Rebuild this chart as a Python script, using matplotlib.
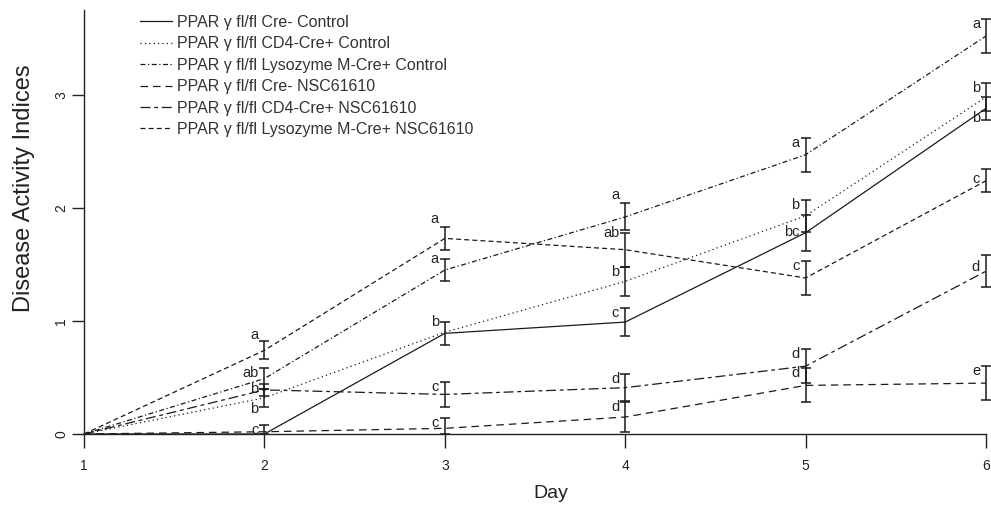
import matplotlib.pyplot as plt
import numpy as np

plt.rcParams['font.family'] = ['Liberation Sans', 'DejaVu Sans']

days = [1, 2, 3, 4, 5, 6]

# mean disease activity index per group
cre_ctrl = [0, 0, 0.89, 0.99, 1.78, 2.88]
cd4_ctrl = [0, 0.32, 0.90, 1.35, 1.93, 2.98]
lys_ctrl = [0, 0.49, 1.45, 1.92, 2.47, 3.52]
cre_nsc = [0, 0.02, 0.05, 0.15, 0.43, 0.45]
cd4_nsc = [0, 0.39, 0.35, 0.41, 0.60, 1.44]
lys_nsc = [0, 0.74, 1.73, 1.63, 1.38, 2.24]

# SEM
cre_ctrl_err = [0, 0.08, 0.10, 0.12, 0.16, 0.10]
cd4_ctrl_err = [0, 0.08, 0, 0.13, 0.14, 0.12]
lys_ctrl_err = [0, 0.09, 0.10, 0.12, 0.15, 0.15]
cre_nsc_err = [0, 0, 0.09, 0.13, 0.15, 0.15]
cd4_nsc_err = [0, 0.05, 0.11, 0.12, 0.15, 0.14]
lys_nsc_err = [0, 0.08, 0.10, 0.15, 0.15, 0.10]

# significance letters
cre_ctrl_sig = ['', 'c', 'b', 'c', 'bc', 'b']
cd4_ctrl_sig = ['', 'b', '', 'b', 'b', 'b']
lys_ctrl_sig = ['', 'ab', 'a', 'a', 'a', 'a']
cre_nsc_sig = ['', '', 'c', 'd', 'd', 'e']
cd4_nsc_sig = ['', 'b', 'c', 'd', 'd', 'd']
lys_nsc_sig = ['', 'a', 'a', 'ab', 'c', 'c']

groups = {
    'cre_ctrl': {'label': "PPAR γ fl/fl Cre- Control", 'y': cre_ctrl, 'err': cre_ctrl_err, 'sig': cre_ctrl_sig, 'style': '-'},
    'cd4_ctrl': {'label': "PPAR γ fl/fl CD4-Cre+ Control", 'y': cd4_ctrl, 'err': cd4_ctrl_err, 'sig': cd4_ctrl_sig, 'style': (0, (1, 2.5))},
    'lys_ctrl': {'label': "PPAR γ fl/fl Lysozyme M-Cre+ Control", 'y': lys_ctrl, 'err': lys_ctrl_err, 'sig': lys_ctrl_sig, 'style': (0, (4, 2, 1, 2))},
    'cre_nsc': {'label': "PPAR γ fl/fl Cre- NSC61610", 'y': cre_nsc, 'err': cre_nsc_err, 'sig': cre_nsc_sig, 'style': (0, (6, 4))},
    'cd4_nsc': {'label': "PPAR γ fl/fl CD4-Cre+ NSC61610", 'y': cd4_nsc, 'err': cd4_nsc_err, 'sig': cd4_nsc_sig, 'style': (0, (8, 3, 3, 3))},
    'lys_nsc': {'label': "PPAR γ fl/fl Lysozyme M-Cre+ NSC61610", 'y': lys_nsc, 'err': lys_nsc_err, 'sig': lys_nsc_sig, 'style': (0, (4, 2.5))},
}

# letters sit just under the upper cap; a few are shifted (pixels) to keep them apart
sig_nudge = {
    ('lys_nsc', 2): 11, ('cd4_ctrl', 2): -15,
    ('lys_nsc', 3): 13, ('lys_ctrl', 3): 5, ('cre_ctrl', 3): 5,
    ('lys_ctrl', 4): 13, ('lys_nsc', 4): 5,
    ('cre_ctrl', 5): -12,
    ('cre_ctrl', 6): -16, ('lys_nsc', 6): -5, ('cd4_nsc', 6): -7,
}

ink = '#1a1a1a'

fig = plt.figure(figsize=(9.91, 5.13), dpi=100)
ax = fig.add_axes([84 / 991, 79 / 513, 902 / 991, 424 / 513])

for key, g in groups.items():
    ax.plot(days, g['y'], color=ink, linestyle=g['style'], linewidth=0.9, label=g['label'], clip_on=False)
    d = np.array(days)
    y = np.array(g['y'])
    e = np.array(g['err'])
    has = e > 0
    # bars stop at the x axis
    lower = np.minimum(e, y)
    ax.errorbar(d[has], y[has], yerr=[lower[has], e[has]], fmt='none', ecolor=ink, elinewidth=1.1,
                capsize=3.6, capthick=1.1, clip_on=False)
    for x, v, err, s in zip(days, g['y'], g['err'], g['sig']):
        if s:
            dy = -5 + sig_nudge.get((key, x), 0)
            ax.annotate(s, xy=(x, v + err), xytext=(-6, dy), textcoords='offset pixels',
                        ha='right', va='center', fontsize=10.5, color='#222')

ax.set_xlim(1, 6)
ax.set_ylim(0, 3.75)
ax.set_xticks(days)
ax.set_yticks([0, 1, 2, 3])
ax.spines['top'].set_visible(False)
ax.spines['right'].set_visible(False)
for s in ['left', 'bottom']:
    ax.spines[s].set_color('#222')
    ax.spines[s].set_linewidth(1.0)
ax.tick_params(axis='x', direction='out', length=10, width=1.0, pad=8, labelsize=10, colors='#222')
ax.tick_params(axis='y', direction='out', length=8.5, width=1.0, pad=3, labelsize=10, colors='#222', labelrotation=90)
for lbl in ax.get_yticklabels():
    lbl.set_va('center')

ax.set_xlabel('Day', fontsize=14, color='#222')
ax.xaxis.set_label_coords(0.518, -0.12)
ax.set_ylabel('Disease Activity Indices', fontsize=17, color='#222')
ax.yaxis.set_label_coords(-0.054, 0.58)

ax.legend(loc='upper left', bbox_to_anchor=(140 / 991, 1 - 15 / 513), bbox_transform=fig.transFigure,
          frameon=False, fontsize=11.5, handlelength=2.0, handletextpad=0.3, labelspacing=0.4,
          borderpad=0, borderaxespad=0, labelcolor='#333')

fig.savefig('out.png', dpi=100)
